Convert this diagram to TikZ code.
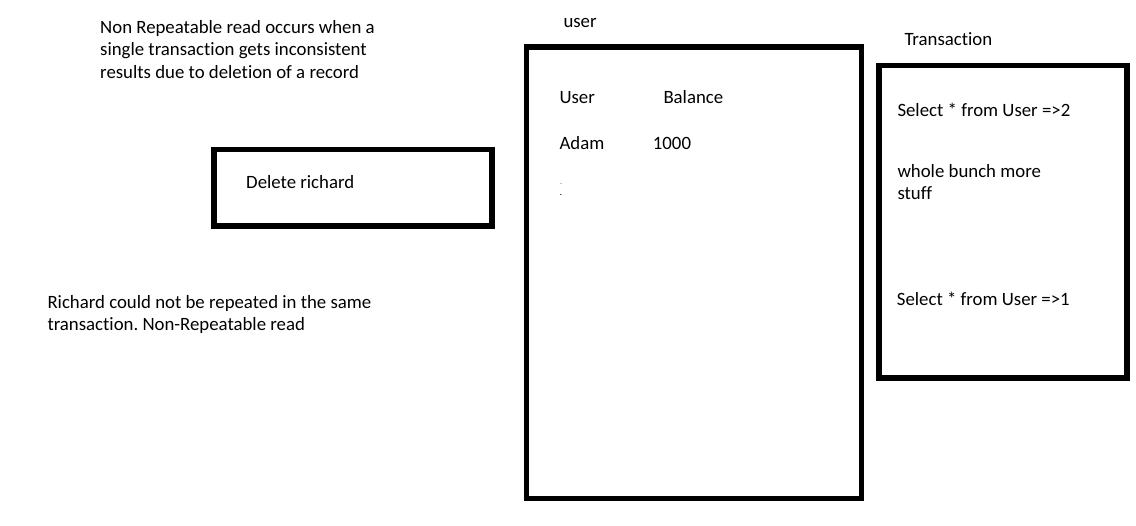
\documentclass[tikz,border=0pt]{standalone}
\usepackage{fontspec}
\setmainfont{Carlito}[Ligatures=NoCommon]
\frenchspacing
\begin{document}
\begin{tikzpicture}[x=1pt,y=-1pt,
  txt/.style={anchor=base west, inner sep=0pt, font=\fontsize{18.8}{22}\selectfont},
  speck/.style={txt, font=\bfseries\fontsize{8}{9}\selectfont},
  frame/.style={line width=5.5pt}]

% Fix the page size
\useasboundingbox (0,0) rectangle (1136,526);

% Draw the three boxes
\draw[frame] (214,149.5) rectangle (492,226);     % Delete box
\draw[frame] (526.5,47) rectangle (861.5,498.5);  % user table
\draw[frame] (879,65.7) rectangle (1127,378);     % Transaction box

% Explanation at the top left
\node[txt] (intro1) at (100,33.8) {Non Repeatable read occurs when a};
\node[txt] (intro2) at (100,56) {single transaction gets inconsistent};
\node[txt] (intro3) at (100,78.1) {results due to deletion of a record};

% Text of the delete box
\node[txt] (delete) at (246,188.2) {Delete richard};

% Note at the bottom left
\node[txt] (note1) at (47.3,308.2) {Richard could not be repeated in the same};
\node[txt] (note2) at (47.3,330.5) {transaction. Non-Repeatable read};

% Table title and rows
\node[txt] (usertitle) at (563.3,27.2) {user};
\node[txt] (colname) at (559.3,103.8) {User};
\node[txt] (colbal) at (663.3,103.8) {Balance};
\node[txt] (rowname) at (559.3,149.8) {Adam};
\node[txt] (rowbal) at (652.7,149.8) {1000};
\node[speck, text=black!45] (dot1) at (559.8,184.6) {.};
\node[speck] (dot2) at (559.6,195.6) {.};

% Transaction title and steps
\node[txt] (trtitle) at (904.3,45.5) {Transaction};
\node[txt] (select1) at (897.3,116.2) {Select * from User =>2};
\node[txt] (stuff1) at (897.3,177.2) {whole bunch more};
\node[txt] (stuff2) at (897.3,199.8) {stuff};
\node[txt] (select2) at (896.7,305.5) {Select * from User =>1};

\end{tikzpicture}
\end{document}
